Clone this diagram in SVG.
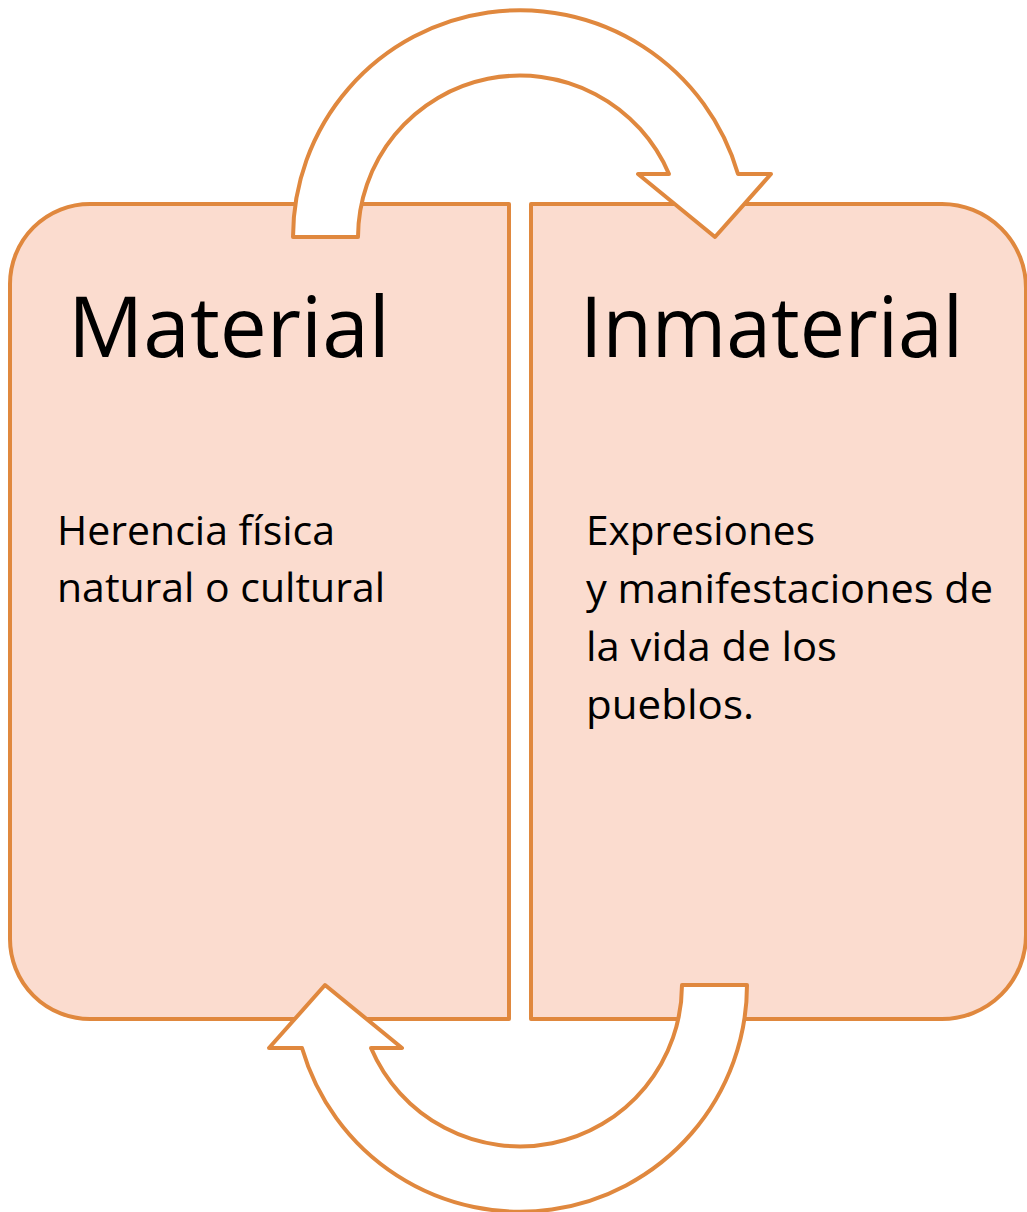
<svg xmlns="http://www.w3.org/2000/svg" width="1027" height="1212" viewBox="0 0 1027 1212">
<style>
.box{fill:#FBDCCF;stroke:#E0883E;stroke-width:4;stroke-linejoin:round}
.arrow{fill:#FFFFFF;stroke:#E0883E;stroke-width:4;stroke-linejoin:round}
.h{font-family:"Open Sans","Noto Sans",sans-serif;font-size:84px;fill:#000}
.t{font-family:"Open Sans","Noto Sans",sans-serif;font-size:41px;fill:#000}
</style>
<rect width="1027" height="1212" fill="#FFFFFF"/>
<g id="material">
<path class="box" d="M90,204 H509 V1019 H90 A80,80 0 0 1 10,939 V284 A80,80 0 0 1 90,204 Z"/>
<text class="h" x="68" y="357" textLength="322" lengthAdjust="spacingAndGlyphs">Material</text>
<text class="t" x="57" y="545" textLength="278" lengthAdjust="spacingAndGlyphs">Herencia física</text>
<text class="t" x="57" y="602" textLength="328" lengthAdjust="spacingAndGlyphs">natural o cultural</text>
</g>
<g id="inmaterial">
<path class="box" d="M531,204 H942 A84,84 0 0 1 1026,288 V935 A84,84 0 0 1 942,1019 H531 Z"/>
<text class="h" x="580" y="357" textLength="383" lengthAdjust="spacingAndGlyphs">Inmaterial</text>
<text class="t" x="586" y="545" textLength="229" lengthAdjust="spacingAndGlyphs">Expresiones</text>
<text class="t" x="586" y="603" textLength="407" lengthAdjust="spacingAndGlyphs">y manifestaciones de</text>
<text class="t" x="586" y="661" textLength="251" lengthAdjust="spacingAndGlyphs">la vida de los</text>
<text class="t" x="586" y="719" textLength="168" lengthAdjust="spacingAndGlyphs">pueblos.</text>
</g>
<g id="connectors">
<path id="arrow-top" class="arrow" d="M293,237 A227,227 0 0 1 738,174 L771,174 L715,237 L638,174 L669,174 A162,162 0 0 0 358,237 Z"/>
<path id="arrow-bottom" class="arrow" transform="rotate(180 520 611)" d="M293,237 A227,227 0 0 1 738,174 L771,174 L715,237 L638,174 L669,174 A162,162 0 0 0 358,237 Z"/>
</g>
</svg>
